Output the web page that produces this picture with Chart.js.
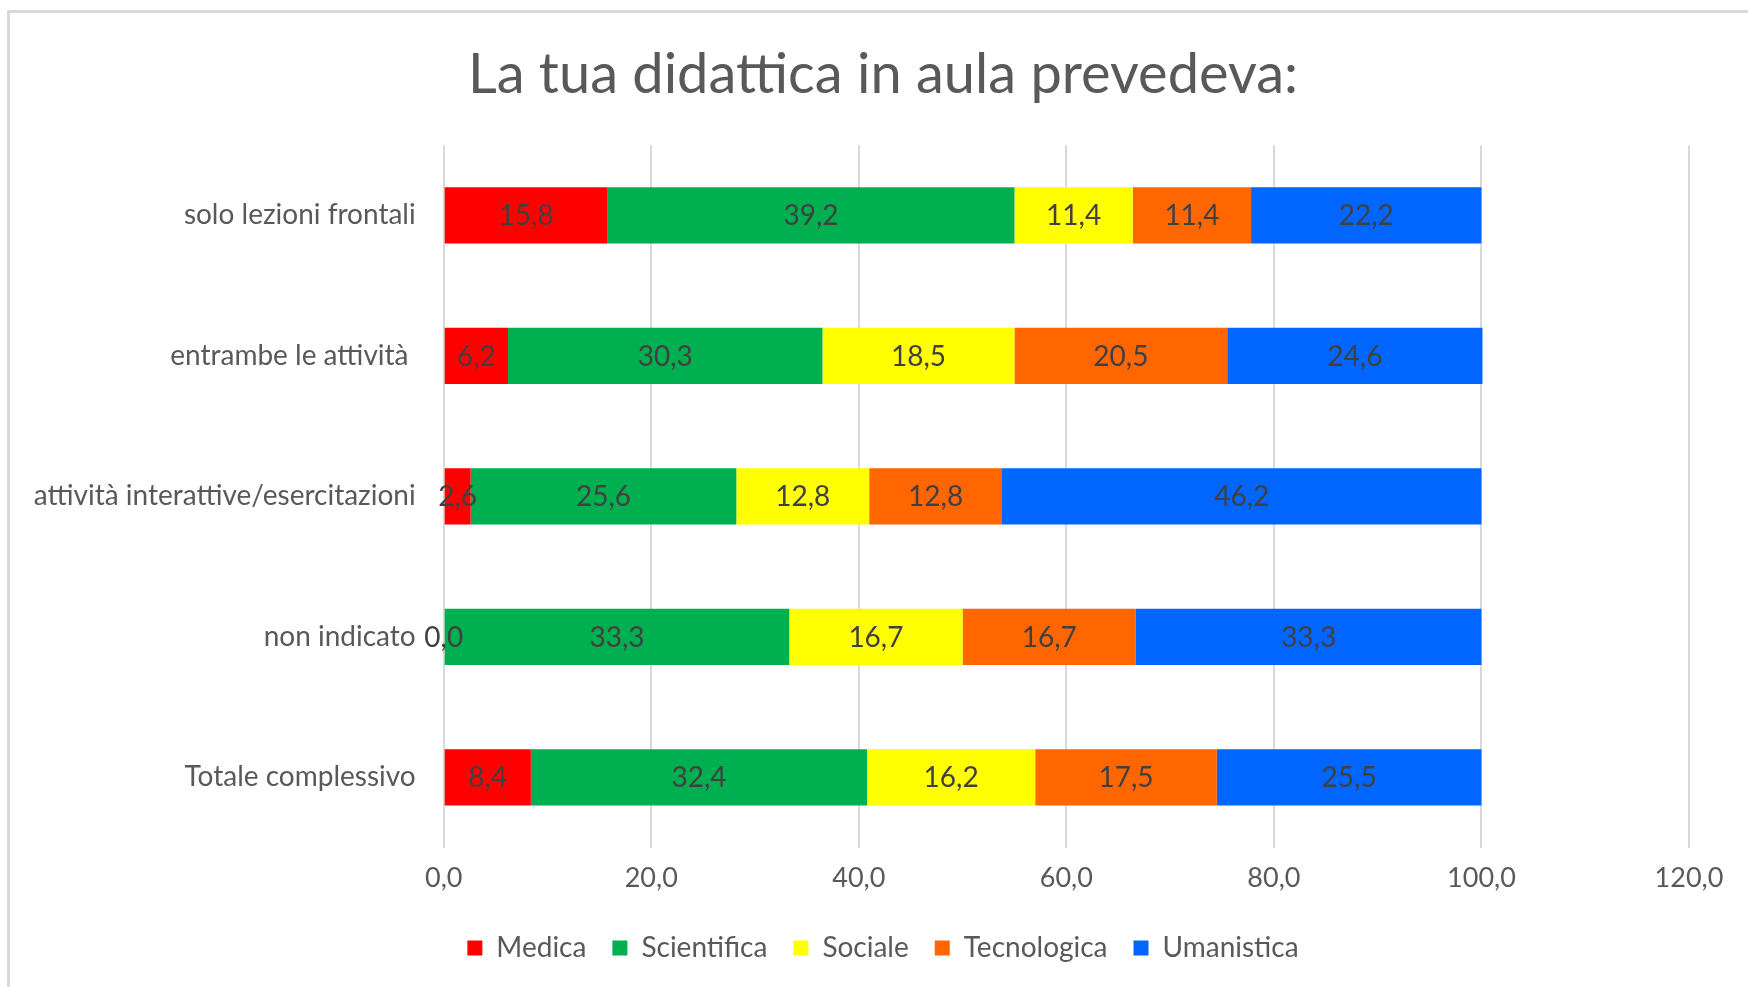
<!DOCTYPE html>
<html>
<head>
<meta charset="utf-8">
<script src="https://cdn.jsdelivr.net/npm/chart.js@4/dist/chart.umd.min.js"></script>
<style>
  html, body { margin: 0; padding: 0; background: #ffffff; overflow: hidden; }
  #frame { position: absolute; left: 7px; top: 10px; width: 2000px; height: 1200px;
           border-left: 3px solid #d9d9d9; border-top: 3px solid #d9d9d9; box-sizing: border-box; }
  #wrap { position: absolute; left: 0; top: 0; width: 1748px; height: 987px; }
</style>
</head>
<body>
<div id="frame"></div>
<div id="wrap"><canvas id="c" width="1748" height="987"></canvas></div>
<script>
const categories = ["solo lezioni frontali", "entrambe le attività ", "attività interattive/esercitazioni", "non indicato", "Totale complessivo"];
const seriesNames = ["Medica", "Scientifica", "Sociale", "Tecnologica", "Umanistica"];
const medica      = [15.8, 6.2, 2.6, 0.0, 8.4];
const scientifica = [39.2, 30.3, 25.6, 33.3, 32.4];
const sociale     = [11.4, 18.5, 12.8, 16.7, 16.2];
const tecnologica = [11.4, 20.5, 12.8, 16.7, 17.5];
const umanistica  = [22.2, 24.6, 46.2, 33.3, 25.5];
const xTicks = [0, 20, 40, 60, 80, 100, 120];
const colors = ["#ff0000", "#00b050", "#ffff00", "#ff6600", "#0066ff"];

const FONT = "Lato";
const fmt = v => Number(v).toFixed(1).replace('.', ',');

const valueLabels = {
  id: 'valueLabels',
  afterDatasetsDraw(chart) {
    const ctx = chart.ctx;
    ctx.save();
    ctx.font = "28px " + FONT;
    ctx.fillStyle = "#404040";
    ctx.textAlign = "center";
    ctx.textBaseline = "middle";
    chart.data.datasets.forEach((ds, i) => {
      const meta = chart.getDatasetMeta(i);
      meta.data.forEach((el, j) => {
        const p = el.getProps(['x', 'y', 'base'], true);
        ctx.fillText(fmt(ds.data[j]), (p.x + p.base) / 2, p.y + 1);
      });
    });
    ctx.restore();
  }
};

const allSeries = [medica, scientifica, sociale, tecnologica, umanistica];

new Chart(document.getElementById('c'), {
  type: 'bar',
  data: {
    labels: categories,
    datasets: seriesNames.map((n, i) => ({
      label: n,
      data: allSeries[i],
      backgroundColor: colors[i],
      borderWidth: 0,
      barPercentage: 0.4,
      categoryPercentage: 1.0
    }))
  },
  options: {
    indexAxis: 'y',
    responsive: false,
    animation: false,
    devicePixelRatio: 1,
    layout: { padding: { left: 18, right: 0, top: 0, bottom: 15 } },
    plugins: {
      title: {
        display: true,
        text: "La tua didattica in aula prevedeva:",
        color: "#595959",
        font: { family: FONT, size: 56, weight: 'normal' },
        padding: { top: 41, bottom: 37 }
      },
      legend: {
        position: 'bottom',
        labels: {
          color: "#595959",
          font: { family: FONT, size: 28 },
          boxWidth: 15,
          boxHeight: 15,
          padding: 26
        }
      },
      tooltip: { enabled: false }
    },
    scales: {
      x: {
        stacked: true,
        min: 0,
        max: 120,
        afterBuildTicks(scale) { scale.ticks = xTicks.map(v => ({ value: v })); },
        ticks: {
          color: "#595959",
          font: { family: FONT, size: 27 },
          padding: 14,
          callback: v => fmt(v)
        },
        grid: { color: "#d9d9d9", lineWidth: 2, drawTicks: false },
        border: { display: false }
      },
      y: {
        stacked: true,
        afterFit(scale) { scale.width = 443.7 - 18; },
        ticks: {
          color: "#595959",
          font: { family: FONT, size: 28 },
          padding: 28
        },
        grid: { display: false, drawTicks: false },
        border: { display: false }
      },
      yRight: {
        type: 'category',
        position: 'right',
        display: true,
        afterFit(scale) { scale.width = 1748 - 1689; },
        ticks: { display: false },
        grid: { display: false, drawTicks: false },
        border: { display: false }
      }
    }
  },
  plugins: [valueLabels]
});
</script>
</body>
</html>
